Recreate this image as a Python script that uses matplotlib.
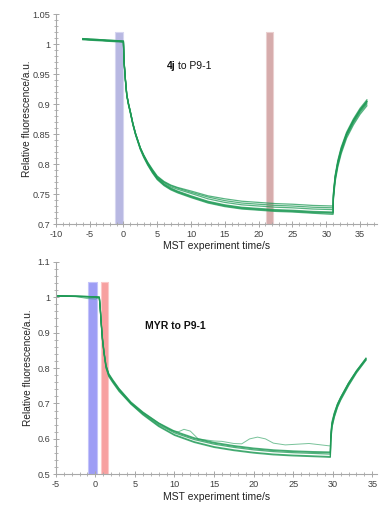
import matplotlib
matplotlib.use("Agg")
import matplotlib.pyplot as plt
from matplotlib.ticker import MultipleLocator, FormatStrFormatter, FuncFormatter

plt.rcParams["font.family"] = ["Liberation Sans", "DejaVu Sans"]

# ---- top panel: 4j to P9-1 ----
t_top = [-6, -3, 0, 0.1, 0.3, 0.5, 0.75, 1, 1.4, 1.8, 2.5, 3, 3.6, 4.3, 5, 6, 7, 8, 10,
         12.5, 15, 17.5, 20, 22.5, 25, 28, 31, 31.05, 31.3, 31.7, 32.2, 33, 34, 35, 36]
top_traces = [
    [1.008, 1.006, 1.004, 0.970, 0.940, 0.915, 0.900, 0.888, 0.867, 0.850, 0.826, 0.813, 0.800, 0.787, 0.776, 0.766, 0.759, 0.754, 0.746,
     0.737, 0.731, 0.727, 0.725, 0.723, 0.722, 0.720, 0.719, 0.745, 0.775, 0.800, 0.822, 0.848, 0.870, 0.888, 0.902],
    [1.007, 1.005, 1.003, 0.969, 0.939, 0.914, 0.899, 0.887, 0.866, 0.849, 0.825, 0.812, 0.799, 0.786, 0.775, 0.765, 0.758, 0.753, 0.745,
     0.736, 0.730, 0.726, 0.724, 0.722, 0.721, 0.719, 0.718, 0.743, 0.773, 0.798, 0.820, 0.846, 0.868, 0.886, 0.900],
    [1.009, 1.007, 1.005, 0.971, 0.941, 0.916, 0.901, 0.889, 0.868, 0.851, 0.827, 0.814, 0.801, 0.788, 0.777, 0.767, 0.760, 0.755, 0.747,
     0.738, 0.732, 0.728, 0.726, 0.724, 0.723, 0.721, 0.720, 0.747, 0.777, 0.802, 0.824, 0.850, 0.872, 0.890, 0.904],
    [1.008, 1.006, 1.004, 0.970, 0.940, 0.915, 0.900, 0.888, 0.867, 0.850, 0.827, 0.815, 0.802, 0.790, 0.779, 0.770, 0.764, 0.760, 0.753,
     0.745, 0.739, 0.735, 0.733, 0.731, 0.730, 0.728, 0.727, 0.750, 0.779, 0.804, 0.826, 0.851, 0.873, 0.891, 0.905],
    [1.009, 1.007, 1.005, 0.971, 0.941, 0.916, 0.901, 0.889, 0.868, 0.851, 0.827, 0.815, 0.803, 0.791, 0.780, 0.771, 0.765, 0.761, 0.755,
     0.747, 0.742, 0.738, 0.736, 0.734, 0.733, 0.731, 0.730, 0.752, 0.781, 0.806, 0.828, 0.853, 0.875, 0.893, 0.907],
    [1.008, 1.006, 1.004, 0.970, 0.940, 0.915, 0.900, 0.888, 0.867, 0.850, 0.826, 0.814, 0.801, 0.789, 0.778, 0.769, 0.762, 0.758, 0.751,
     0.742, 0.736, 0.732, 0.730, 0.728, 0.727, 0.725, 0.724, 0.748, 0.777, 0.802, 0.824, 0.850, 0.872, 0.890, 0.904],
    [1.008, 1.006, 1.004, 0.968, 0.938, 0.913, 0.898, 0.886, 0.865, 0.848, 0.824, 0.811, 0.798, 0.785, 0.774, 0.764, 0.757, 0.752, 0.744,
     0.735, 0.729, 0.725, 0.723, 0.721, 0.720, 0.718, 0.716, 0.740, 0.770, 0.795, 0.817, 0.843, 0.865, 0.883, 0.897],
]
top_cold = (-1.3, -0.1)
top_hot = (21.05, 22.15)
top_band_top = 1.0206

# ---- bottom panel: MYR to P9-1 ----
t_bot = [-5, -2.5, 0, 0.5, 0.6, 0.75, 0.9, 1.1, 1.35, 1.7, 2.2, 3, 4.5, 6, 8, 10, 12.5, 15,
         17.5, 20, 22.5, 25, 27.5, 29.7, 29.75, 29.9, 30.2, 30.6, 31, 32, 33, 34.2]
bot_traces = [
    [1.004, 1.003, 1.001, 1.000, 0.975, 0.925, 0.882, 0.843, 0.805, 0.781, 0.763, 0.738, 0.700, 0.672, 0.640, 0.617, 0.598, 0.585,
     0.576, 0.569, 0.564, 0.561, 0.559, 0.557, 0.600, 0.640, 0.668, 0.695, 0.714, 0.755, 0.790, 0.825],
    [1.004, 1.003, 1.001, 1.000, 0.976, 0.927, 0.884, 0.845, 0.808, 0.784, 0.767, 0.742, 0.704, 0.676, 0.645, 0.622, 0.603, 0.590,
     0.581, 0.574, 0.569, 0.566, 0.564, 0.563, 0.604, 0.644, 0.672, 0.698, 0.717, 0.758, 0.792, 0.828],
    [1.004, 1.003, 1.001, 1.000, 0.976, 0.926, 0.883, 0.844, 0.806, 0.782, 0.765, 0.740, 0.702, 0.674, 0.643, 0.620, 0.601, 0.588,
     0.579, 0.572, 0.567, 0.564, 0.562, 0.561, 0.602, 0.642, 0.670, 0.697, 0.716, 0.757, 0.791, 0.826],
    [1.003, 1.002, 1.000, 0.999, 0.972, 0.922, 0.879, 0.840, 0.800, 0.776, 0.759, 0.734, 0.698, 0.668, 0.635, 0.610, 0.590, 0.576,
     0.567, 0.560, 0.555, 0.552, 0.550, 0.548, 0.590, 0.632, 0.661, 0.689, 0.709, 0.750, 0.786, 0.822],
    [1.003, 1.002, 1.000, 0.999, 0.973, 0.923, 0.880, 0.841, 0.802, 0.778, 0.761, 0.736, 0.699, 0.670, 0.637, 0.612, 0.592, 0.578,
     0.569, 0.562, 0.557, 0.554, 0.552, 0.550, 0.592, 0.634, 0.663, 0.691, 0.711, 0.752, 0.788, 0.823],
]
t_odd = [-5, -2.5, -1, 0, 0.5, 0.6, 0.75, 0.9, 1.1, 1.35, 1.7, 2.2, 3, 4.5, 6, 8, 9.5, 10.5, 11.2, 12, 13,
         15, 16, 17.5, 18.5, 19.5, 20.5, 21.5, 22.5, 24, 27, 29.7, 29.75, 29.9, 30.2, 30.6, 31, 32, 33, 34.2]
odd_trace = [1.004, 1.002, 0.996, 0.995, 0.998, 0.972, 0.924, 0.882, 0.843, 0.806, 0.782, 0.765, 0.741, 0.703, 0.675, 0.645,
             0.625, 0.620, 0.627, 0.622, 0.600, 0.594, 0.593, 0.587, 0.586, 0.600, 0.605, 0.600, 0.588, 0.583, 0.587, 0.580,
             0.620, 0.650, 0.675, 0.700, 0.718, 0.758, 0.793, 0.827]
bot_cold = (-0.87, 0.17)
bot_hot = (0.68, 1.65)
bot_band_top = 1.044

GREEN = "#1f9a56"
AX_GREY = "#a8a8a8"
TXT = "#404040"


def style_axes(ax, xmajor, xminor, ymajor, yminor, yfmt):
    for s in ("top", "right"):
        ax.spines[s].set_visible(False)
    for s in ("left", "bottom"):
        ax.spines[s].set_color(AX_GREY)
        ax.spines[s].set_linewidth(0.8)
    ax.xaxis.set_major_locator(MultipleLocator(xmajor))
    ax.xaxis.set_minor_locator(MultipleLocator(xminor))
    ax.yaxis.set_major_locator(MultipleLocator(ymajor))
    ax.yaxis.set_minor_locator(MultipleLocator(yminor))
    ax.xaxis.set_major_formatter(FormatStrFormatter("%g"))
    ax.yaxis.set_major_formatter(FuncFormatter(yfmt))
    ax.tick_params(which="major", direction="inout", length=5, width=0.7, color=AX_GREY,
                   labelsize=6.6, labelcolor=TXT, pad=1.5)
    ax.tick_params(which="minor", direction="inout", length=3, width=0.6, color=AX_GREY)


fig = plt.figure(figsize=(3.82, 5.11), dpi=100)

# top
ax1 = fig.add_axes([0.146, 0.5616, 0.841, 0.411])
ax1.fill_betweenx([0.7, top_band_top], *top_cold, color="#b8b8e2", edgecolor="#d6d6f0", linewidth=0.8, zorder=1)
ax1.fill_betweenx([0.7, top_band_top], *top_hot, color="#d6acac", edgecolor="#ead0d0", linewidth=0.8, zorder=1)
for tr in top_traces:
    ax1.plot(t_top, tr, color=GREEN, lw=0.9, alpha=0.75, zorder=2)
ax1.set_xlim(-10, 37.5)
ax1.set_ylim(0.7, 1.05)
style_axes(ax1, 5, 1, 0.05, 0.01, lambda v, p: f"{v:.2f}".rstrip("0").rstrip("."))
ax1.set_xlabel("MST experiment time/s", fontsize=7.5, color="#222222", labelpad=2)
ax1.set_ylabel("Relative fluorescence/a.u.", fontsize=7.3, color="#222222")
ax1.yaxis.set_label_coords(-0.075, 0.5)
ax1.text(6.4, 0.964, "4j", fontsize=7.5, fontweight="bold", ha="left", va="center", color="#111111")
ax1.text(8.1, 0.964, "to P9-1", fontsize=7.5, ha="left", va="center", color="#111111")

# bottom
ax2 = fig.add_axes([0.146, 0.0718, 0.841, 0.416])
ax2.fill_betweenx([0.5, bot_band_top], *bot_cold, color="#9d9df5", edgecolor="#c4c4fa", linewidth=0.8, zorder=1)
ax2.fill_betweenx([0.5, bot_band_top], *bot_hot, color="#f7a0a0", edgecolor="#fbc8c8", linewidth=0.8, zorder=1)
for tr in bot_traces:
    ax2.plot(t_bot, tr, color=GREEN, lw=0.9, alpha=0.75, zorder=2)
ax2.plot(t_odd, odd_trace, color=GREEN, lw=0.7, alpha=0.6, zorder=2)
ax2.set_xlim(-5, 35.6)
ax2.set_ylim(0.5, 1.1)
style_axes(ax2, 5, 1, 0.1, 0.02, lambda v, p: f"{v:.1f}".rstrip("0").rstrip("."))
ax2.set_xlabel("MST experiment time/s", fontsize=7.5, color="#222222", labelpad=2)
ax2.set_ylabel("Relative fluorescence/a.u.", fontsize=7.3, color="#222222")
ax2.yaxis.set_label_coords(-0.071, 0.5)
ax2.text(6.3, 0.918, "MYR to P9-1", fontsize=7.5, fontweight="bold", ha="left", va="center", color="#111111")

fig.savefig("out.png", dpi=100)
